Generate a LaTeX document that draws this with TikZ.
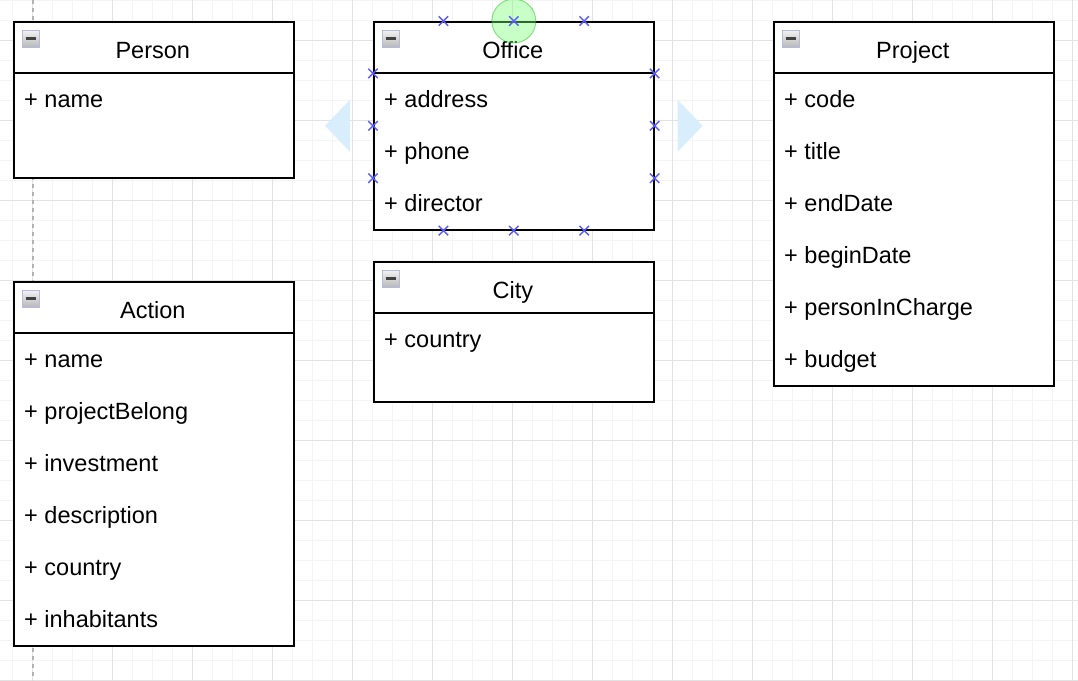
\documentclass[tikz,border=0pt]{standalone}
\usepackage{fontspec}
\setmainfont{Liberation Sans}
\usetikzlibrary{calc,positioning,shapes.misc}
\definecolor{minorgrid}{RGB}{244,244,244}
\definecolor{majorgrid}{RGB}{226,226,226}
\definecolor{hoverblue}{RGB}{216,238,252}
\definecolor{handleblue}{RGB}{90,90,255}
\tikzstyle{classbox} = [rectangle, anchor=north west, minimum width=280pt, inner sep=0pt, draw=black, line width=1.6pt, fill=white]
\tikzstyle{classline} = [draw=black, line width=1.6pt]
\tikzstyle{classtitle} = [anchor=base, inner sep=0pt, font=\fontsize{23.5}{28}\selectfont]
\tikzstyle{attribute} = [anchor=base west, inner sep=0pt, font=\fontsize{23.5}{28}\selectfont]
\tikzstyle{collapse} = [rectangle, minimum size=17pt, inner sep=0pt, draw=gray!60!blue!40, line width=0.7pt, top color=gray!10, bottom color=gray!55]
\tikzstyle{collapsebar} = [draw=black!75, line width=3pt]
\tikzstyle{handle} = [cross out, draw=handleblue, minimum size=8pt, inner sep=0pt, line width=1.4pt]

%% one UML class: name, x, y, height, title, attributes
\newcommand{\umlclass}[6]{%
  \node[classbox, minimum height=#4pt] (#1) at (#2,#3) {};
  \draw[classline] ($(#1.north west)+(0,52)$) -- ($(#1.north east)+(0,52)$);
  \node[classtitle] (#1-title) at ($(#1.north)+(-1,37)$) {#5};
  \node[collapse] (#1-icon) at ($(#1.north west)+(18,17.5)$) {};
  \draw[collapsebar] ($(#1-icon.west)+(3.5,0)$) -- ($(#1-icon.east)+(-3.5,0)$);
  \foreach \a [count=\i] in {#6}
    \node[attribute] (#1-a\i) at ($(#1.north west)+(11,{34+52*\i})$) {+ \a};
}

\begin{document}
\begin{tikzpicture}[x=1pt, y=-1pt]
	\useasboundingbox (0,0) rectangle (1078,680);
	\fill[white] (0,0) rectangle (1078,680);

	%% Background grid
	\foreach \x in {12,32,...,1072}
	  \draw[minorgrid, line width=1pt] (\x,0) -- (\x,680);
	\foreach \y in {0,20,...,680}
	  \draw[minorgrid, line width=1pt] (0,\y) -- (1078,\y);
	\foreach \x in {32,112,...,1072}
	  \draw[majorgrid, line width=1pt] (\x,0) -- (\x,680);
	\foreach \y in {40,120,...,680}
	  \draw[majorgrid, line width=1pt] (0,\y) -- (1078,\y);

	%% Page border
	\draw[gray!60, line width=1.2pt, dash pattern=on 4pt off 4pt] (33,0) -- (33,680);

	%% Classes
	\umlclass{person}{13}{21}{156}{Person}{name}
	\umlclass{office}{373}{21}{208}{Office}{address,phone,director}
	\umlclass{city}{373}{261}{140}{City}{country}
	\umlclass{project}{773}{21}{364}{Project}{code,title,endDate,beginDate,personInCharge,budget}
	\umlclass{action}{13}{281}{364}{Action}{name,projectBelong,investment,description,country,inhabitants}

	%% Hover arrows beside the selected class
	\fill[hoverblue] ($(office.west)+(-48,0)$) -- ($(office.west)+(-23,-26)$) -- ($(office.west)+(-23,26)$) -- cycle;
	\fill[hoverblue] ($(office.east)+(48,0)$) -- ($(office.east)+(23,-26)$) -- ($(office.east)+(23,26)$) -- cycle;

	%% Selected connection point
	\draw[green!70!black, line width=1pt, fill=green!55, fill opacity=0.4, draw opacity=0.4] (office.north) circle (22);

	%% Connection handles
	\foreach \f [count=\k] in {0.25,0.5,0.75}
	{
	  \node[handle] (htop\k) at ($(office.north west)!\f!(office.north east)$) {};
	  \node[handle] (hbot\k) at ($(office.south west)!\f!(office.south east)$) {};
	  \node[handle] (hleft\k) at ($(office.north west)!\f!(office.south west)$) {};
	  \node[handle] (hright\k) at ($(office.north east)!\f!(office.south east)$) {};
	}
\end{tikzpicture}
\end{document}
